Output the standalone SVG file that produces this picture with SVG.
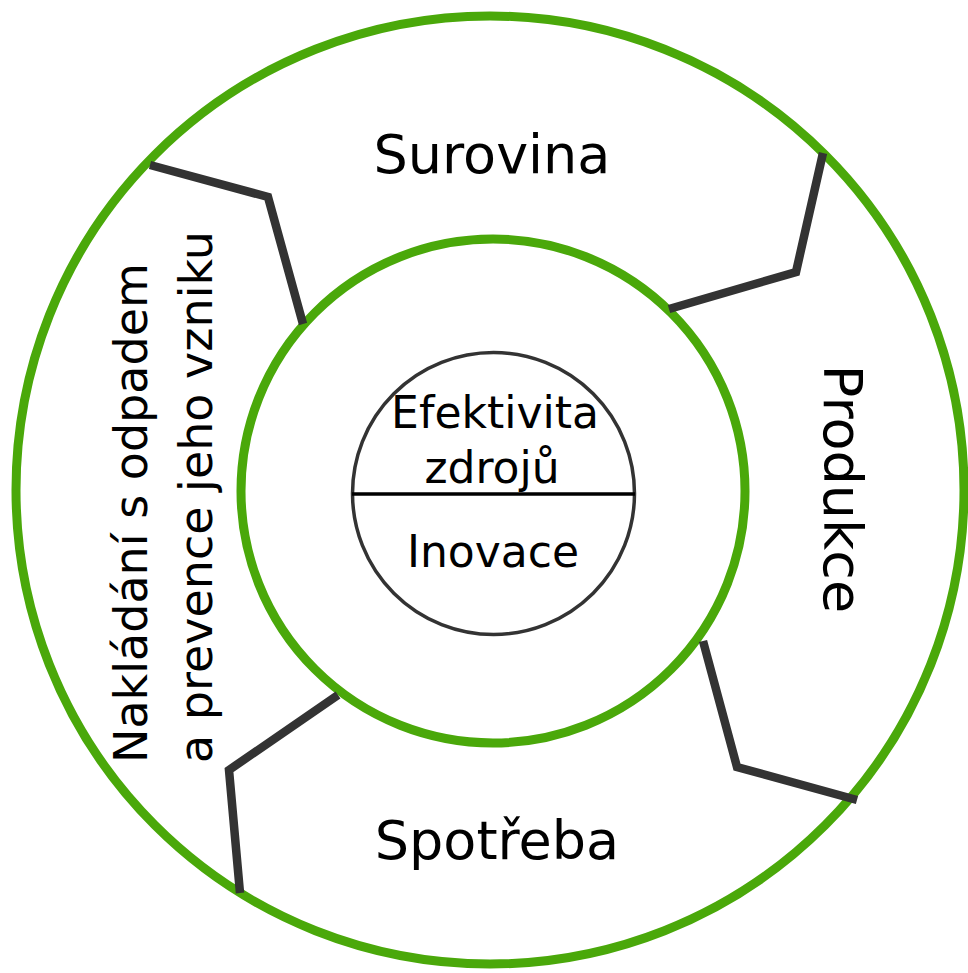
<svg xmlns="http://www.w3.org/2000/svg" width="968" height="973" viewBox="0 0 968 973">
<style>
.ring{fill:none;stroke:#4aa80a;stroke-width:9}
.core{fill:#fff;stroke:#333;stroke-width:3.5}
.conn{fill:none;stroke:#333;stroke-width:8.5;stroke-linejoin:miter}
text{font-family:"DejaVu Sans","Verdana",sans-serif;fill:#000}
.big{font-size:54px}
.mid{font-size:46px}
.small{font-size:44px}
</style>
<rect width="968" height="973" fill="#fff"/>
<g id="outer-ring"><circle class="ring" cx="490" cy="490" r="474"/></g>
<g id="inner-ring"><circle class="ring" cx="493" cy="491" r="252"/></g>
<g id="connectors">
<polyline class="conn" points="150,165 268,197 303,324"/>
<polyline class="conn" points="823,153 796,272 669,309"/>
<polyline class="conn" points="703,641 737,767 857,800"/>
<polyline class="conn" points="338,695 229,770 240,893"/>
</g>
<g id="core">
<circle class="core" cx="493.5" cy="493.5" r="141"/>
<line x1="352" y1="494" x2="635" y2="494" stroke="#000" stroke-width="3.5"/>
<text class="small" x="495" y="428" text-anchor="middle">Efektivita</text>
<text class="small" x="492" y="483" text-anchor="middle">zdrojů</text>
<text class="small" x="493" y="567" text-anchor="middle">Inovace</text>
</g>
<g id="surovina"><text class="big" x="492" y="173" text-anchor="middle">Surovina</text></g>
<g id="produkce"><text class="big" text-anchor="middle" transform="translate(824,489) rotate(90)">Produkce</text></g>
<g id="spotreba"><text class="big" x="497" y="859" text-anchor="middle">Spotřeba</text></g>
<g id="nakladani">
<text class="mid" transform="translate(147,763) rotate(-90)">Nakládání s odpadem</text>
<text class="mid" transform="translate(212,763) rotate(-90)">a prevence jeho vzniku</text>
</g>
</svg>
